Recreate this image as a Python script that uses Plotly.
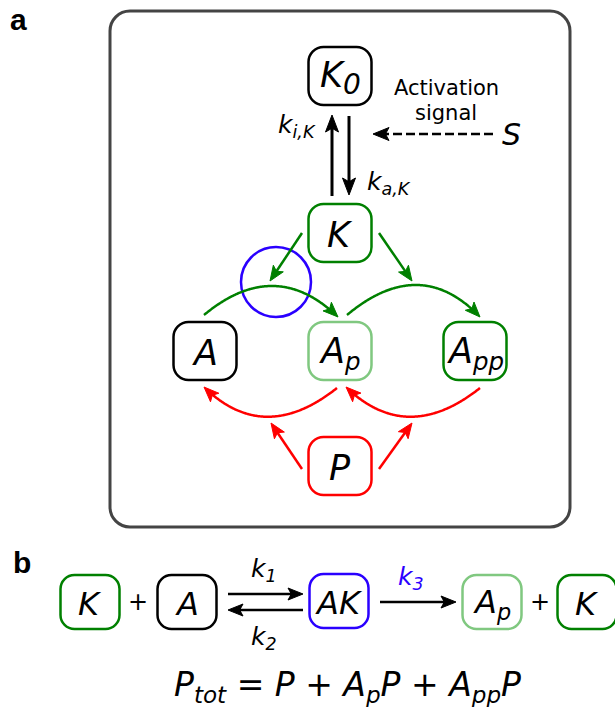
import numpy as np
import plotly.graph_objects as go

W, H = 615, 707

BLACK = "#000000"
GREEN = "#008000"
LIGHT_GREEN = "#80c880"
RED = "#ff0000"
BLUE = "#2a00ff"
FRAME = "#444444"
FONT = "DejaVu Sans"

# ---- panel a: species of the kinase cascade ----
a_labels = ["<i>K</i><sub><span style='font-size:28px'><i>0</i></span></sub>", "<i>K</i>", "<i>A</i>",
            "<i>A</i><sub><i>p</i></sub>", "<i>A</i><sub><i>pp</i></sub>", "<i>P</i>"]
a_colors = [BLACK, GREEN, BLACK, LIGHT_GREEN, GREEN, RED]
a_x = [340, 340, 205, 340, 475, 340]
a_y = [76, 233, 351, 351, 351, 466]

# straight reaction arrows in panel a: (start, tip, colour)
a_arrows_start = [(302, 233), (379, 233), (302, 469), (379, 469), (332, 196), (349, 116)]
a_arrows_tip = [(270, 281), (412, 281), (271, 423), (412, 423), (332, 115), (349, 195)]
a_arrows_color = [GREEN, GREEN, RED, RED, BLACK, BLACK]

# curved (phosphorylation / dephosphorylation) arrows: start, control, tip
arc_start = [(204, 315), (347, 315), (337, 388), (480, 388)]
arc_ctrl = [(275, 256), (420, 254), (264, 446), (407, 446)]
arc_tip = [(338, 317), (480, 317), (204, 387), (346, 387)]
arc_color = [GREEN, GREEN, RED, RED]

# ---- panel b: mass-action scheme ----
b_labels = ["<i>K</i>", "<i>A</i>", "<i>AK</i>", "<i>A</i><sub><i>p</i></sub>", "<i>K</i>"]
b_colors = [GREEN, BLACK, BLUE, LIGHT_GREEN, GREEN]
b_x = [90, 187, 339, 492, 587]
b_y = [602, 602, 601, 602, 602]

rate_labels = ["<i>k</i><sub><i>1</i></sub>", "<i>k</i><sub><i>2</i></sub>", "<i>k</i><sub><i>3</i></sub>"]
rate_colors = [BLACK, BLACK, BLUE]
rate_x = [264, 264, 411]
rate_y = [570, 638, 578]

fig = go.Figure()
shapes = []
annotations = []

KAPPA = 0.5523


def rrect(cx, cy, w, h, r):
    x0, x1 = cx - w / 2, cx + w / 2
    y0, y1 = cy - h / 2, cy + h / 2
    k = KAPPA * r
    return (f"M {x0 + r},{y0} L {x1 - r},{y0} "
            f"C {x1 - r + k},{y0} {x1},{y0 + r - k} {x1},{y0 + r} "
            f"L {x1},{y1 - r} C {x1},{y1 - r + k} {x1 - r + k},{y1} {x1 - r},{y1} "
            f"L {x0 + r},{y1} C {x0 + r - k},{y1} {x0},{y1 - r + k} {x0},{y1 - r} "
            f"L {x0},{y0 + r} C {x0},{y0 + r - k} {x0 + r - k},{y0} {x0 + r},{y0} Z")


def head_path(tip, d, length=15, spread=12, notch=0.22):
    d = np.asarray(d, float)
    d = d / np.hypot(*d)
    n = np.array([-d[1], d[0]])
    tip = np.asarray(tip, float)
    base = tip - d * length
    left = base + n * spread / 2
    right = base - n * spread / 2
    nb = tip - d * length * (1 - notch)
    pts = [tip, left, nb, right]
    return "M " + " L ".join(f"{p[0]:.2f},{p[1]:.2f}" for p in pts) + " Z", tip - d * length * 0.7


def add_head(tip, d, color, **kw):
    p, back = head_path(tip, d, **kw)
    shapes.append(dict(type="path", path=p, fillcolor=color,
                       line=dict(color=color, width=1), layer="above"))
    return back


def straight_arrow(s, t, color, width=2.5, dash="solid", **kw):
    s = np.asarray(s, float)
    t = np.asarray(t, float)
    back = add_head(t, t - s, color, **kw)
    shapes.append(dict(type="line", x0=s[0], y0=s[1], x1=back[0], y1=back[1],
                       line=dict(color=color, width=width, dash=dash), layer="above"))


def curved_arrow(p0, p1, p2, color, width=2.5, length=15):
    p0, p1, p2 = (np.asarray(p, float) for p in (p0, p1, p2))
    tt = np.linspace(0, 1, 200)
    pts = ((1 - tt)[:, None] ** 2) * p0 + (2 * (1 - tt) * tt)[:, None] * p1 + (tt[:, None] ** 2) * p2
    dist = np.hypot(*(pts - p2).T)
    keep = pts[dist >= length * 0.7]
    path = "M " + " L ".join(f"{x:.2f},{y:.2f}" for x, y in keep)
    shapes.append(dict(type="path", path=path, line=dict(color=color, width=width),
                       fillcolor="rgba(0,0,0,0)", layer="above"))
    add_head(p2, p2 - p1, color, length=length)


def text(x, y, s, size, color=BLACK, family=FONT, xanchor="center", yanchor="middle"):
    annotations.append(dict(x=x, y=y, xref="x", yref="y", text=s, showarrow=False,
                            font=dict(family=family, size=size, color=color),
                            xanchor=xanchor, yanchor=yanchor))


# outer frame of panel a
shapes.append(dict(type="path", path=rrect(340, 269, 460, 516, 20),
                   line=dict(color=FRAME, width=3), layer="below"))

# panel a nodes
for lab, col, x, y in zip(a_labels, a_colors, a_x, a_y):
    shapes.append(dict(type="path", path=rrect(x, y, 63, 58, 15),
                       line=dict(color=col, width=2.5), layer="above"))
    text(x, y + 2, lab, 35)

# enzyme-substrate complex marker
shapes.append(dict(type="circle", x0=241, y0=247, x1=311, y1=317,
                   line=dict(color=BLUE, width=2.5), layer="above"))

for s, t, c in zip(a_arrows_start, a_arrows_tip, a_arrows_color):
    if c == BLACK:
        straight_arrow(s, t, c, width=3, length=17, spread=13)
    else:
        straight_arrow(s, t, c, width=2.5)

for p0, p1, p2, c in zip(arc_start, arc_ctrl, arc_tip, arc_color):
    curved_arrow(p0, p1, p2, c)

# activation signal (dashed)
straight_arrow((493, 134), (373, 134), BLACK, width=2.5, dash="9px,4px", length=16, spread=13)
text(511, 134, "<i>S</i>", 30)
text(446, 88, "Activation", 21)
text(446, 113, "signal", 21)
text(318, 126, "<i>k</i><sub><i>i,K</i></sub>", 25, xanchor="right")
text(365, 183, "<i>k</i><sub><i>a,K</i></sub>", 25, xanchor="left")

# panel b nodes
for lab, col, x, y in zip(b_labels, b_colors, b_x, b_y):
    shapes.append(dict(type="path", path=rrect(x, y, 59, 54, 14),
                       line=dict(color=col, width=2.5), layer="above"))
    text(x, y + 2, lab, 32)

text(138, 602, "+", 24)
text(540, 602, "+", 24)

straight_arrow((228, 594), (303, 594), BLACK, width=2.5)
straight_arrow((303, 610), (228, 610), BLACK, width=2.5)
straight_arrow((380, 602), (456, 602), BLACK, width=2.5)

for lab, col, x, y in zip(rate_labels, rate_colors, rate_x, rate_y):
    text(x, y, lab, 25, color=col)

# total phosphatase conservation
text(347, 686, "<i>P</i><sub><i>tot</i></sub> = <i>P</i> + <i>A</i><sub><i>p</i></sub><i>P</i>"
               " + <i>A</i><sub><i>pp</i></sub><i>P</i>", 33)

# panel letters
text(18, 19, "<b>a</b>", 30, family="Liberation Sans")
text(22, 562, "<b>b</b>", 30, family="Liberation Sans")

fig.update_layout(
    width=W, height=H, margin=dict(l=0, r=0, t=0, b=0),
    paper_bgcolor="white", plot_bgcolor="white",
    xaxis=dict(range=[0, W], visible=False, fixedrange=True),
    yaxis=dict(range=[H, 0], visible=False, fixedrange=True),
    shapes=shapes, annotations=annotations, showlegend=False,
)

fig.write_html("out.html")
